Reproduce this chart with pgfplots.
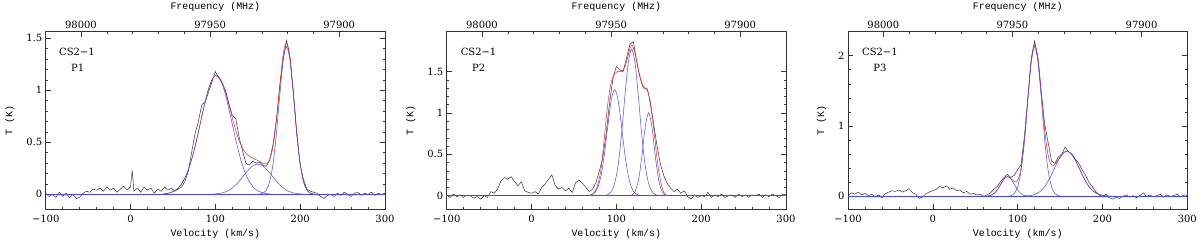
\documentclass[border=0pt]{standalone}
\usepackage{fontspec}
\setmainfont{DejaVu Serif}
\newfontfamily\labfont{Liberation Mono}
\usepackage{pgfplots}
\pgfplotsset{compat=1.18}
\definecolor{fitblue}{RGB}{70,70,250}
\definecolor{fitred}{RGB}{250,30,30}
\definecolor{specblack}{RGB}{35,35,35}
\pgfplotsset{
  common/.style={scale only axis, width=339.3bp, height=177.3bp,
    tick align=inside, major tick length=5bp, minor tick length=2.5bp,
    axis line style={black!80, line width=0.5pt},
    every tick/.style={black!80, line width=0.5pt},
    tick label style={font=\fontsize{10}{12}\selectfont},
    label style={font=\labfont\fontsize{10}{12}\selectfont},
    scaled x ticks=false, scaled y ticks=false,
    /pgf/number format/assume math mode=true,
    /pgf/number format/1000 sep={}},
  spec/.style={common, xmin=-100, xmax=300,
    xtick={-100,0,100,200,300}, xticklabels={−100,0,100,200,300},
    minor x tick num=4, xtick pos=left, ytick pos=both,
    xlabel={Velocity (km/s)}, ylabel={T (K)},
    xticklabel style={yshift=-3bp},
    xlabel style={yshift=1bp}, ylabel style={yshift=5bp},
    clip=true},
  freq/.style={common, xmin=97882.27, xmax=98013.67, x dir=reverse,
    axis x line*=top, hide y axis, ymin=0, ymax=1,
    xtick={97900,97950,98000}, xticklabels={97900,97950,98000},
    minor x tick num=4, xlabel={Frequency (MHz)},
    xlabel style={yshift=2bp}},
  specline/.style={specblack, line width=0.45pt, sharp plot},
  redline/.style={fitred, line width=0.5pt, smooth},
  blueline/.style={fitblue, line width=0.5pt, smooth},
}
\begin{document}
\begin{tikzpicture}
\useasboundingbox (-45.7bp,-33bp) rectangle (1154.3bp,209bp);
% ---------------- Panel 1 ----------------
\begin{axis}[spec, at={(0bp,0bp)}, ymin=-0.141, ymax=1.563,
  ytick={0,0.5,1,1.5}, minor y tick num=4]
\addplot[specline] coordinates {
(-100,0.01) (-96,-0.02) (-92,0.00) (-88,-0.03) (-84,0.02) (-80,-0.02) (-76,0.01) (-72,-0.03)
(-68,0.00) (-64,-0.04) (-60,-0.03) (-56,0.01) (-52,0.03) (-48,0.02) (-44,0.05) (-40,0.04)
(-36,0.06) (-32,0.03) (-28,0.07) (-24,0.04) (-20,0.06) (-16,0.02) (-12,0.05) (-8,0.08)
(-4,0.04) (0,0.07) (2,0.23) (4,0.03) (8,0.06) (12,0.02) (16,0.07) (20,0.04) (24,0.06)
(28,0.01) (32,0.05) (36,0.03) (40,0.07) (44,0.04) (48,0.06) (52,0.03) (56,0.05) (60,0.07)
(64,0.12) (68,0.22) (72,0.40) (76,0.58) (80,0.70) (84,0.86) (88,0.89) (92,0.98) (96,1.08)
(100,1.18) (104,1.12) (108,1.07) (112,1.00) (116,0.87) (120,0.76) (124,0.73) (128,0.55)
(132,0.42) (136,0.30) (140,0.28) (144,0.32) (148,0.30) (152,0.31) (156,0.28) (160,0.27)
(164,0.33) (168,0.48) (172,0.72) (176,1.05) (180,1.30) (184,1.48) (188,1.32) (192,0.98)
(196,0.58) (200,0.28) (204,0.14) (208,0.05) (212,0.03) (216,0.02) (220,0.01) (224,-0.02)
(228,-0.04) (232,-0.01) (236,0.00) (240,-0.02) (244,0.01) (248,-0.01) (252,0.02) (256,0.00)
(260,-0.02) (264,0.01) (268,0.02) (272,-0.01) (276,0.01) (280,0.00) (284,0.02) (288,-0.01)
(292,0.01) (296,0.00) (300,0.01)};
\addplot[redline] coordinates {
(40,0.005) (44,0.010) (48,0.019) (52,0.034) (56,0.059) (60,0.098) (64,0.154) (68,0.232)
(72,0.333) (76,0.457) (80,0.599) (84,0.748) (88,0.890) (92,1.013) (96,1.101) (100,1.142)
(104,1.133) (108,1.075) (112,0.979) (116,0.860) (120,0.734) (124,0.617) (128,0.519)
(132,0.446) (136,0.397) (140,0.367) (144,0.349) (148,0.333) (152,0.316) (156,0.298)
(160,0.292) (164,0.331) (168,0.458) (172,0.710) (176,1.047) (180,1.347) (184,1.459)
(188,1.310) (192,0.971) (196,0.592) (200,0.296) (204,0.121) (208,0.041) (212,0.011)
(216,0.002) (220,0)};
\addplot[blueline] coordinates {(-100,0) (300,0)};
\addplot[blueline] coordinates {
(36,0) (40,0.005) (44,0.010) (48,0.019) (52,0.034) (56,0.059) (60,0.098) (64,0.154) (68,0.232)
(72,0.333) (76,0.457) (80,0.599) (84,0.748) (88,0.890) (92,1.013) (96,1.099) (100,1.138)
(104,1.125) (108,1.061) (112,0.955) (116,0.821) (120,0.673) (124,0.527) (128,0.393)
(132,0.280) (136,0.190) (140,0.123) (144,0.076) (148,0.045) (152,0.026) (156,0.014)
(160,0.007) (164,0.003) (168,0)};
\addplot[blueline] coordinates {
(96,0.002) (100,0.004) (104,0.0075) (108,0.014) (112,0.024) (116,0.039) (120,0.061) (124,0.090)
(128,0.126) (132,0.166) (136,0.207) (140,0.244) (144,0.273) (148,0.288) (152,0.288)
(156,0.273) (160,0.244) (164,0.207) (168,0.166) (172,0.126) (176,0.090) (180,0.061)
(184,0.039) (188,0.024) (192,0.014) (196,0.0075) (200,0.004) (204,0.002)};
\addplot[blueline] coordinates {
(148,0) (152,0.002) (156,0.011) (160,0.041) (164,0.121) (168,0.292) (172,0.584) (176,0.957)
(180,1.286) (184,1.42) (188,1.286) (192,0.957) (196,0.584) (200,0.292) (204,0.121)
(208,0.041) (212,0.011) (216,0.002) (220,0)};
\node[font=\fontsize{10}{12}\selectfont] at (rel axis cs:0.092,0.885) {CS2−1};
\node[font=\fontsize{10}{12}\selectfont] at (rel axis cs:0.094,0.795) {P1};
\end{axis}
\begin{axis}[freq, at={(0bp,0bp)}]
\end{axis}
% ---------------- Panel 2 ----------------
\begin{axis}[spec, at={(401bp,0bp)}, ymin=-0.16, ymax=1.98,
  ytick={0,0.5,1,1.5}, minor y tick num=4]
\addplot[specline] coordinates {
(-100,0.01) (-96,-0.02) (-92,0.02) (-88,-0.01) (-84,0.01) (-80,-0.02) (-76,0.01) (-72,0.00)
(-68,-0.03) (-64,-0.01) (-60,-0.04) (-56,0.00) (-52,-0.02) (-48,0.05) (-44,0.03) (-40,0.08)
(-36,0.18) (-32,0.22) (-28,0.20) (-24,0.23) (-20,0.17) (-16,0.12) (-12,0.17) (-8,0.06)
(-4,0.04) (0,0.03) (4,0.05) (8,0.02) (12,0.10) (16,0.14) (20,0.20) (24,0.25) (28,0.12)
(32,0.08) (36,0.10) (40,0.06) (44,0.09) (48,0.04) (52,0.16) (56,0.19) (60,0.15) (64,0.10)
(68,0.05) (72,0.08) (76,0.16) (80,0.30) (84,0.46) (88,0.75) (92,1.12) (96,1.42) (100,1.56)
(104,1.52) (108,1.50) (112,1.66) (116,1.83) (120,1.86) (124,1.62) (128,1.42) (132,1.30)
(136,1.30) (140,1.14) (144,0.86) (148,0.60) (152,0.38) (156,0.24) (160,0.15) (164,0.09)
(168,0.05) (172,0.08) (176,0.03) (180,0.06) (184,-0.01) (188,-0.04) (192,0.01) (196,-0.02)
(200,0.00) (204,-0.01) (208,0.04) (212,-0.02) (216,0.01) (220,-0.01) (224,0.02) (228,-0.02)
(232,0.00) (236,0.01) (240,-0.02) (244,0.02) (248,-0.01) (252,0.01) (256,-0.02) (260,0.01)
(264,0.00) (268,0.02) (272,-0.02) (276,0.01) (280,-0.01) (284,0.02) (288,0.00) (292,-0.02)
(296,0.02) (300,0.01)};
\addplot[redline] coordinates {
(66,0) (70,0.01) (74,0.04) (78,0.13) (82,0.33) (86,0.72) (90,1.12) (94,1.37) (98,1.47)
(102,1.50) (106,1.50) (110,1.55) (114,1.70) (118,1.82) (122,1.72) (126,1.52) (130,1.36)
(134,1.29) (137,1.27) (140,1.11) (144,0.82) (148,0.45) (152,0.18) (156,0.04) (160,0)};
\addplot[blueline] coordinates {(-100,0) (300,0)};
\addplot[blueline] coordinates {
(66,0.002) (70,0.008) (74,0.031) (78,0.097) (82,0.245) (86,0.505) (90,0.847) (94,1.155)
(98,1.28) (102,1.155) (106,0.847) (110,0.505) (114,0.245) (118,0.097) (122,0.031)
(126,0.008) (130,0.002)};
\addplot[blueline] coordinates {
(86,0.003) (90,0.014) (94,0.051) (98,0.150) (102,0.365) (106,0.728) (110,1.193) (114,1.604)
(118,1.77) (122,1.604) (126,1.193) (130,0.728) (134,0.365) (138,0.150) (142,0.051)
(146,0.014) (150,0.003)};
\addplot[blueline] coordinates {
(114,0.001) (118,0.009) (122,0.048) (126,0.182) (130,0.469) (134,0.828) (138,1.0)
(142,0.828) (146,0.469) (150,0.182) (154,0.048) (158,0.009) (162,0.001)};
\node[font=\fontsize{10}{12}\selectfont] at (rel axis cs:0.094,0.885) {CS2−1};
\node[font=\fontsize{10}{12}\selectfont] at (rel axis cs:0.094,0.795) {P2};
\end{axis}
\begin{axis}[freq, at={(401bp,0bp)}]
\end{axis}
% ---------------- Panel 3 ----------------
\begin{axis}[spec, at={(802.3bp,0bp)}, ymin=-0.18, ymax=2.34,
  ytick={0,1,2}, minor y tick num=4]
\addplot[specline] coordinates {
(-100,0.01) (-96,0.05) (-92,0.03) (-88,0.06) (-84,0.02) (-80,0.04) (-76,0.01) (-72,0.03)
(-68,-0.01) (-64,0.02) (-60,-0.02) (-56,0.04) (-52,0.06) (-48,0.08) (-44,0.07) (-40,0.09)
(-36,0.06) (-32,0.08) (-28,0.11) (-24,0.05) (-20,0.03) (-16,-0.03) (-12,-0.01) (-8,0.04)
(-4,0.06) (0,0.08) (4,0.10) (8,0.14) (12,0.12) (16,0.15) (20,0.10) (24,0.12) (28,0.08)
(32,0.09) (36,0.05) (40,0.07) (44,0.03) (48,0.04) (52,0.02) (56,0.03) (60,0.00) (64,0.02)
(68,0.05) (72,0.10) (76,0.14) (80,0.21) (84,0.27) (88,0.31) (92,0.27) (96,0.30) (100,0.38)
(104,0.45) (108,0.86) (112,1.40) (116,1.96) (120,2.21) (124,1.96) (128,1.45) (132,1.02)
(136,0.76) (140,0.50) (144,0.47) (148,0.56) (152,0.60) (156,0.70) (160,0.63) (164,0.60)
(168,0.53) (172,0.47) (176,0.38) (180,0.30) (184,0.20) (188,0.14) (192,0.07) (196,0.02)
(200,-0.01) (204,0.03) (208,-0.02) (212,-0.04) (216,-0.01) (220,-0.03) (224,0.00) (228,0.02)
(232,-0.01) (236,0.01) (240,-0.02) (244,0.01) (248,0.05) (252,0.00) (256,0.02) (260,-0.01)
(264,0.01) (268,0.03) (272,-0.01) (276,0.02) (280,0.00) (284,0.01) (288,0.03) (292,-0.01)
(296,0.02) (300,0.01)};
\addplot[redline] coordinates {
(56,0) (60,0.001) (64,0.003) (68,0.012) (72,0.038) (76,0.091) (80,0.170) (84,0.247) (88,0.282)
(92,0.256) (96,0.210) (100,0.225) (104,0.401) (108,0.800) (112,1.377) (116,1.920) (120,2.156)
(124,1.955) (128,1.455) (132,0.928) (136,0.580) (140,0.446) (144,0.454) (148,0.521)
(152,0.593) (156,0.634) (160,0.634) (164,0.591) (168,0.512) (172,0.414) (176,0.312)
(180,0.218) (184,0.142) (188,0.087) (192,0.049) (196,0.026) (200,0.013) (204,0.006)
(208,0.0025) (212,0)};
\addplot[blueline] coordinates {(-100,0) (300,0)};
\addplot[blueline] coordinates {
(56,0) (60,0.001) (64,0.003) (68,0.012) (72,0.038) (76,0.091) (80,0.170) (84,0.247) (88,0.28)
(92,0.247) (96,0.170) (100,0.091) (104,0.038) (108,0.012) (112,0.003) (116,0.001) (120,0)};
\addplot[blueline] coordinates {
(84,0) (88,0.002) (92,0.009) (96,0.040) (100,0.134) (104,0.362) (108,0.786) (112,1.368)
(116,1.906) (120,2.13) (124,1.906) (128,1.368) (132,0.786) (136,0.362) (140,0.134)
(144,0.040) (148,0.009) (152,0.002) (156,0)};
\addplot[blueline] coordinates {
(100,0) (104,0.001) (108,0.0025) (112,0.006) (116,0.013) (120,0.026) (124,0.049) (128,0.087)
(132,0.142) (136,0.218) (140,0.312) (144,0.414) (148,0.512) (152,0.591) (156,0.634)
(160,0.634) (164,0.591) (168,0.512) (172,0.414) (176,0.312) (180,0.218) (184,0.142)
(188,0.087) (192,0.049) (196,0.026) (200,0.013) (204,0.006) (208,0.0025) (212,0.001) (216,0)};
\node[font=\fontsize{10}{12}\selectfont] at (rel axis cs:0.094,0.885) {CS2−1};
\node[font=\fontsize{10}{12}\selectfont] at (rel axis cs:0.094,0.795) {P3};
\end{axis}
\begin{axis}[freq, at={(802.3bp,0bp)}]
\end{axis}
\end{tikzpicture}
\end{document}
